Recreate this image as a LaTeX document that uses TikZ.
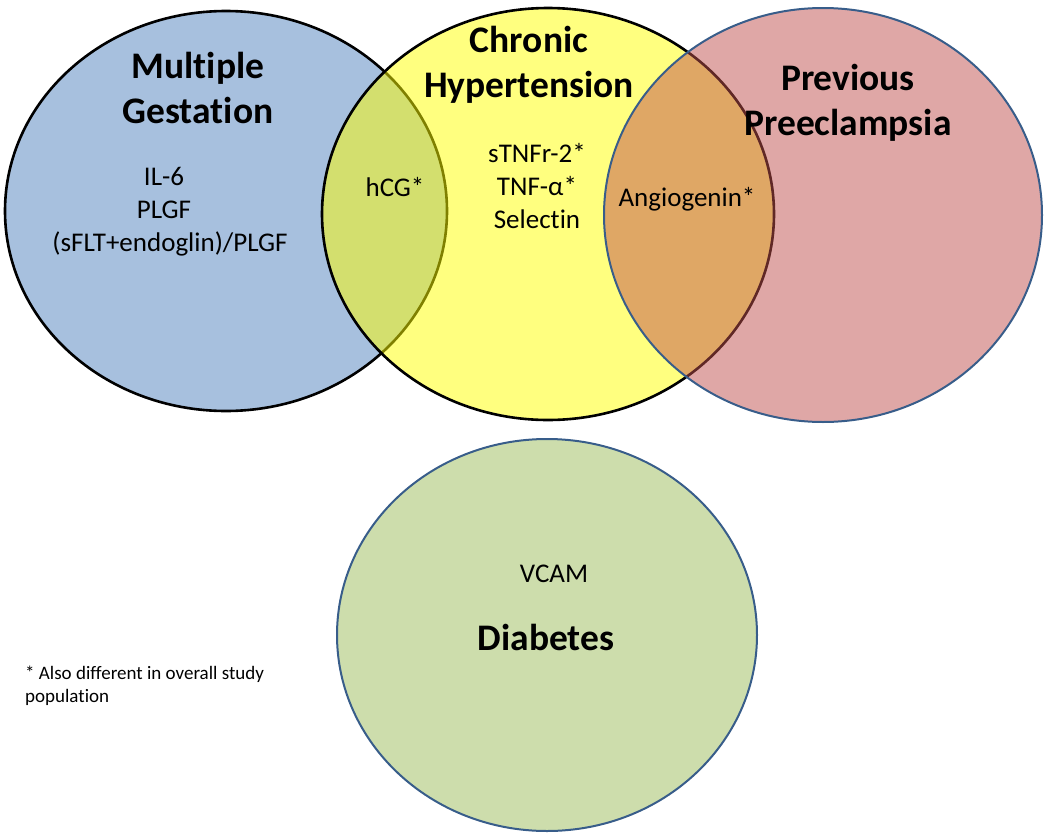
\documentclass[tikz,border=0pt]{standalone}
\usepackage{fontspec}
\setmainfont{Carlito}[Ligatures=NoCommon]
\definecolor{setblue}{HTML}{4F81BD}
\definecolor{setyel}{HTML}{FFFF00}
\definecolor{setred}{HTML}{C0504D}
\definecolor{setgrn}{HTML}{9BBB59}
\definecolor{rim}{HTML}{385D8A}

\begin{document}
\begin{tikzpicture}[
  x=1pt, y=-1pt,
  set/.style={fill opacity=0.5, line width=2.6pt, draw=black},
  thinset/.style={fill opacity=0.5, line width=2pt, draw=rim},
  title/.style={font=\fontsize{37.5}{45}\selectfont\bfseries, text=black, anchor=base, inner sep=0pt},
  item/.style={font=\fontsize{27}{33}\selectfont, text=black, anchor=base, inner sep=0pt},
  note/.style={font=\fontsize{19}{23}\selectfont, text=black, anchor=base west, inner sep=0pt}
]
\useasboundingbox (0,0) rectangle (1050,838);

% sets
\filldraw[set, fill=setblue] (226,211) ellipse [x radius=221pt, y radius=200pt];
\filldraw[set, fill=setyel] (548,214) ellipse [x radius=226pt, y radius=206pt];
\filldraw[thinset, fill=setred] (823,215) ellipse [x radius=219pt, y radius=207pt];
\filldraw[thinset, fill=setgrn] (547,635) ellipse [x radius=210pt, y radius=196pt];

% titles
\node[title] (multiple) at (198,78) {Multiple};
\node[title] (gestation) at (198,123) {Gestation};
\node[title] (chronic) at (529,52) {Chronic};
\node[title] (hyper) at (529,97) {Hypertension};
\node[title] (previous) at (848,90) {Previous};
\node[title] (preec) at (848,135) {Preeclampsia};
\node[title] (diabetes) at (546,650) {Diabetes};

% markers
\node[item] (il6) at (164,185) {IL-6};
\node[item] (plgf) at (164,218) {PLGF};
\node[item] (ratio) at (170,251) {(sFLT+endoglin)/PLGF};
\node[item] (hcg) at (395,196) {hCG*};
\node[item] (stnfr) at (537,162) {sTNFr-2*};
\node[item] (tnfa) at (537,195) {TNF-α*};
\node[item] (selectin) at (537,228) {Selectin};
\node[item] (angio) at (687,206) {Angiogenin*};
\node[item] (vcam) at (554,582) {VCAM};

% footnote
\node[note] (noteA) at (25,679) {* Also different in overall study};
\node[note] (noteB) at (25,702) {population};
\end{tikzpicture}
\end{document}
